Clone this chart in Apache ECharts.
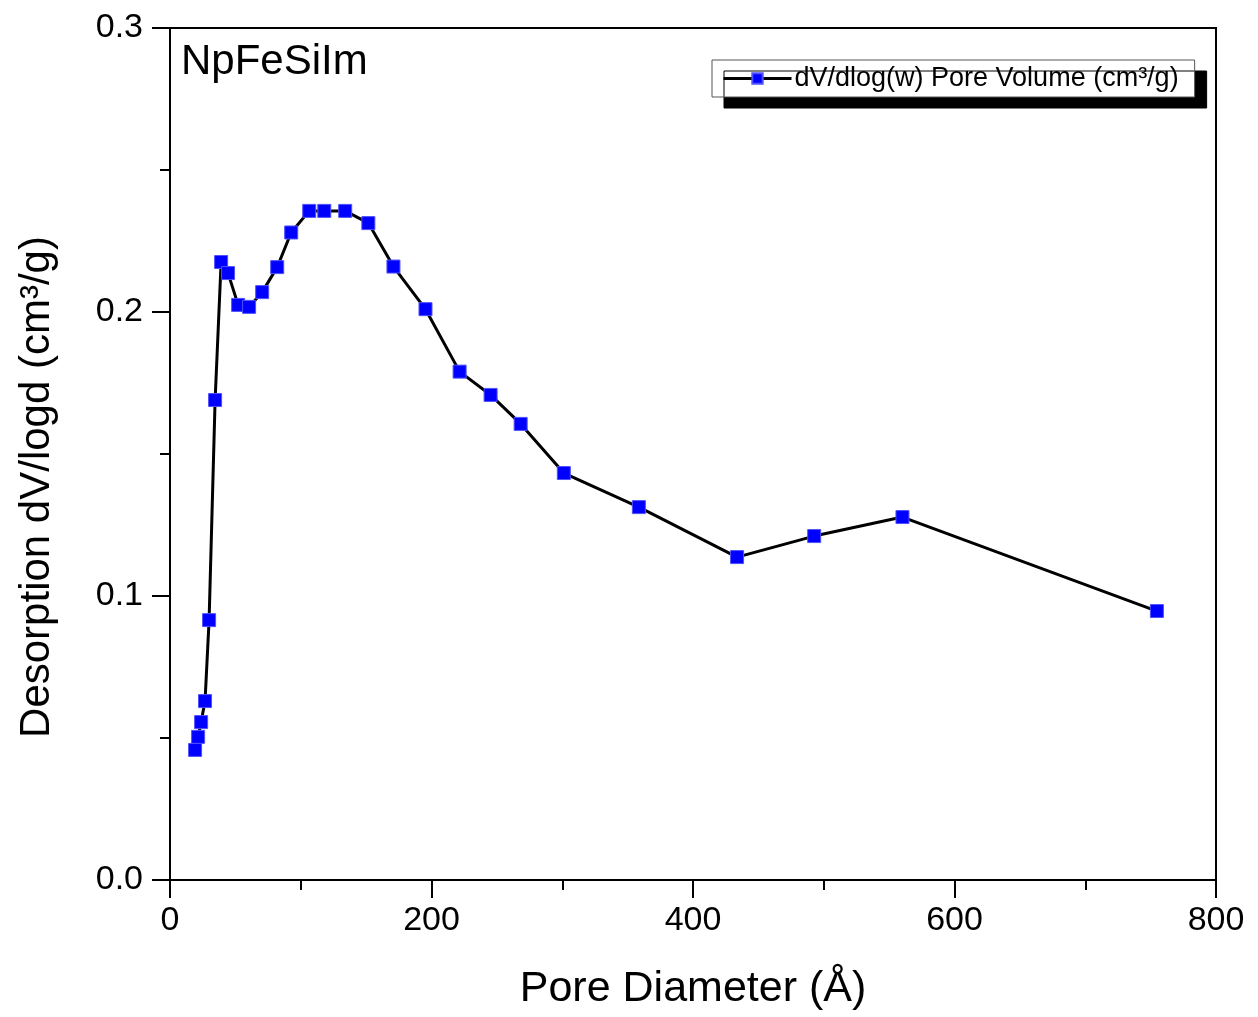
<!DOCTYPE html>
<html>
<head>
<meta charset="utf-8">
<script src="https://cdn.jsdelivr.net/npm/echarts@6/dist/echarts.min.js"></script>
<style>html,body{margin:0;padding:0;background:#fff;}#c{width:1258px;height:1017px;}</style>
</head>
<body>
<div id="c"></div>
<script>
const poreDiameter = [19.2, 21.5, 23.8, 26.8, 29.9, 34.5, 39.1, 44.4, 52.1, 60.5, 70.5, 82.0, 92.7, 106.5, 118.0, 134.0, 151.7, 170.9, 195.4, 221.5, 245.2, 268.2, 301.2, 358.6, 433.7, 492.7, 560.2, 754.8];
const poreVolume = [0.0458, 0.0504, 0.0556, 0.0630, 0.0915, 0.1690, 0.2176, 0.2137, 0.2025, 0.2018, 0.2070, 0.2158, 0.2280, 0.2356, 0.2356, 0.2356, 0.2313, 0.2160, 0.2010, 0.1790, 0.1708, 0.1606, 0.1433, 0.1313, 0.1137, 0.1211, 0.1278, 0.0947];
const seriesName = 'dV/dlog(w) Pore Volume (cm³/g)';
const FONT = 'Liberation Sans, Arial, sans-serif';

const chart = echarts.init(document.getElementById('c'));
chart.setOption({
  animation: false,
  backgroundColor: '#fff',
  title: {
    text: 'NpFeSiIm', left: 176, top: 36,
    textStyle: { fontFamily: FONT, fontSize: 42, fontWeight: 'normal', color: '#000' }
  },
  legend: {
    left: 712, top: 60, padding: [5, 16, 5, 10],
    itemWidth: 68, itemHeight: 13, itemGap: 0,
    backgroundColor: '#fff', borderColor: '#555', borderWidth: 1, borderRadius: 0,
    shadowColor: '#000', shadowBlur: 0, shadowOffsetX: 12, shadowOffsetY: 11,
    textStyle: { fontFamily: FONT, fontSize: 27, color: '#000', padding: [0,0,0,-2] },
    data: [{ name: seriesName, lineStyle: { width: 3, color: '#000' } }]
  },
  grid: { left: 170, right: 42, top: 28, bottom: 137, show: true, borderColor: '#000', borderWidth: 2 },
  xAxis: {
    type: 'value', min: 0, max: 800, interval: 200,
    name: 'Pore Diameter (Å)', nameLocation: 'middle', nameGap: 88,
    nameTextStyle: { fontFamily: FONT, fontSize: 43, color: '#000' },
    axisLine: { show: true, onZero: false, lineStyle: { color: '#000', width: 2 } },
    axisTick: { show: true, inside: false, length: 18, lineStyle: { color: '#000', width: 2 } },
    minorTick: { show: true, splitNumber: 2, length: 10, lineStyle: { color: '#000', width: 2 } },
    splitLine: { show: false },
    axisLabel: { fontFamily: FONT, fontSize: 34, color: '#000', margin: 24 }
  },
  yAxis: {
    type: 'value', min: 0, max: 0.3, interval: 0.1,
    name: 'Desorption dV/logd (cm³/g)', nameLocation: 'middle', nameGap: 112,
    nameTextStyle: { fontFamily: FONT, fontSize: 42, color: '#000', padding: [0, 66, 0, 0] },
    axisLine: { show: true, lineStyle: { color: '#000', width: 2 } },
    axisTick: { show: true, inside: false, length: 18, lineStyle: { color: '#000', width: 2 } },
    minorTick: { show: true, splitNumber: 2, length: 10, lineStyle: { color: '#000', width: 2 } },
    splitLine: { show: false },
    axisLabel: { fontFamily: FONT, fontSize: 34, color: '#000', margin: 27, formatter: v => v.toFixed(1) }
  },
  series: [{
    name: seriesName,
    type: 'line',
    data: poreDiameter.map((x, i) => [x, poreVolume[i]]),
    symbol: 'rect', symbolSize: 13,
    itemStyle: { color: '#0000ff', borderColor: '#5050ff', borderWidth: 1 },
    lineStyle: { color: '#000', width: 3 },
    z: 3
  }]
});
</script>
</body>
</html>
